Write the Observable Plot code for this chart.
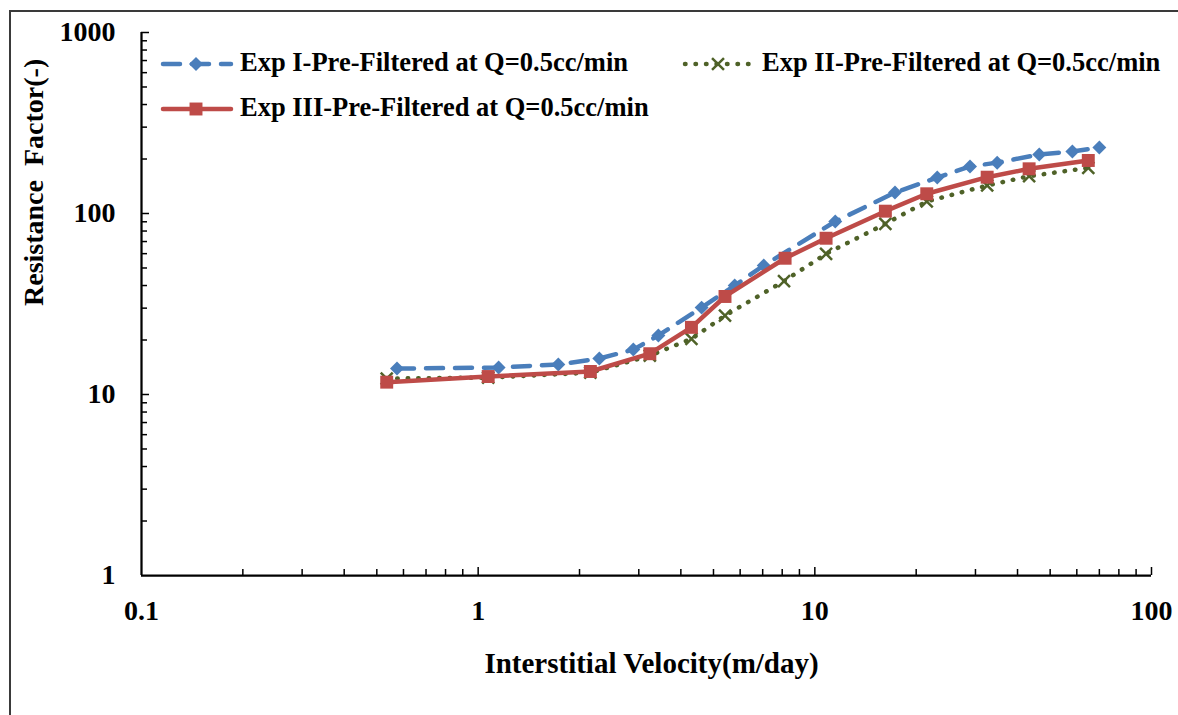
<!DOCTYPE html>
<html>
<head>
<meta charset="utf-8">
<script src="https://cdn.jsdelivr.net/npm/d3@7"></script>
<script src="https://cdn.jsdelivr.net/npm/@observablehq/plot@0.6"></script>
<style>
  html, body { margin: 0; padding: 0; background: #fff; overflow: hidden; }
  #wrap { position: relative; width: 1178px; height: 715px; overflow: hidden; }
  #wrap > svg { position: absolute; left: 0; top: 0; }
  #frame { position: absolute; left: 9px; top: 10px; width: 1300px; height: 800px; border: 2px solid #3a3a3a; box-sizing: border-box; pointer-events: none; }
</style>
</head>
<body>
<div id="wrap"><div id="frame"></div></div>
<script>
// ---------- data ----------
const seriesNames = [
  "Exp I-Pre-Filtered at Q=0.5cc/min",
  "Exp II-Pre-Filtered at Q=0.5cc/min",
  "Exp III-Pre-Filtered at Q=0.5cc/min"
];
const velocityI   = [0.574, 1.15, 1.73, 2.29, 2.89, 3.43, 4.61, 5.78, 7.05, 11.5, 17.3, 23.1, 28.9, 34.8, 46.4, 58.2, 70.0];
const resistanceI = [13.9, 14.1, 14.65, 15.8, 17.7, 21.2, 30.2, 40.0, 51.6, 90.3, 130.6, 158, 182, 191, 212, 220, 231.5];
const velocityII   = [0.535, 1.071, 2.154, 3.235, 4.30, 5.41, 8.10, 10.8, 16.2, 21.5, 32.5, 43.3, 64.9];
const resistanceII = [12.25, 12.4, 13.2, 16.4, 20.3, 27.3, 42.3, 59.9, 87.7, 116.5, 142.8, 160.7, 178.8];
const velocityIII   = [0.535, 1.071, 2.154, 3.235, 4.30, 5.41, 8.16, 10.8, 16.2, 21.5, 32.5, 43.3, 64.9];
const resistanceIII = [11.7, 12.57, 13.4, 16.8, 23.5, 34.8, 56.6, 73.0, 103, 128.5, 158.7, 176.6, 196.3];
const xTickLabels = [0.1, 1, 10, 100];
const yTickLabels = [1, 10, 100, 1000];
const xTitle = "Interstitial Velocity(m/day)";
const yTitle = "Resistance  Factor(-)";

// ---------- derived tables ----------
const toRows = (xs, ys) => xs.map((x, i) => ({x, y: ys[i]}));
const rowsI = toRows(velocityI, resistanceI);
const rowsII = toRows(velocityII, resistanceII);
const rowsIII = toRows(velocityIII, resistanceIII);
const minorOf = (decades) => decades.flatMap(d => d3.range(2, 10).map(k => k * d));
const xMinor = minorOf([0.1, 1, 10]);
const yMinor = minorOf([1, 10, 100]);
const fmt = d3.format("~g");

const FONT = "Liberation Serif, Times New Roman, serif";
const blue = "#4A7EBB", red = "#BE4B48", green = "#4F6228";

const chart = Plot.plot({
  width: 1178, height: 715,
  marginLeft: 141, marginRight: 27, marginTop: 32, marginBottom: 140,
  x: {type: "log", domain: [0.1, 100], axis: null},
  y: {type: "log", domain: [1, 1000], axis: null},
  style: {fontFamily: FONT, fontWeight: "bold", background: "transparent", overflow: "visible"},
  marks: [
    // axis lines
    Plot.ruleX([0.1], {stroke: "#000", strokeWidth: 2.25}),
    Plot.ruleY([1], {stroke: "#000", strokeWidth: 2.25}),
    // x ticks (inward)
    Plot.ruleX(xMinor, {x: d => d, y1: () => 1, y2: () => 1, insetTop: -6, stroke: "#000", strokeWidth: 1.5}),
    Plot.ruleX(xTickLabels.slice(1), {x: d => d, y1: () => 1, y2: () => 1, insetTop: -8, stroke: "#000", strokeWidth: 1.5}),
    // y ticks (inward)
    Plot.ruleY(yMinor, {y: d => d, x1: () => 0.1, x2: () => 0.1, insetRight: -6, stroke: "#000", strokeWidth: 1.5}),
    Plot.ruleY(yTickLabels.slice(1), {y: d => d, x1: () => 0.1, x2: () => 0.1, insetRight: -8, stroke: "#000", strokeWidth: 1.5}),
    // tick labels
    Plot.text(xTickLabels, {x: d => d, frameAnchor: "bottom", dy: 36, lineAnchor: "middle", text: d => fmt(d), fontSize: 28, fill: "#000"}),
    Plot.text(yTickLabels, {y: d => d, frameAnchor: "left", dx: -26, textAnchor: "end", lineAnchor: "middle", text: d => fmt(d), fontSize: 28, fill: "#000"}),
    // axis titles
    Plot.text([xTitle], {frameAnchor: "bottom", dx: 5, dy: 88, lineAnchor: "middle", text: d => d, fontSize: 29, fill: "#000"}),
    Plot.text([yTitle], {frameAnchor: "left", dx: -107, dy: 2, rotate: -90, lineAnchor: "middle", text: d => d, fontSize: 28, fill: "#000"}),
    // series I (blue, long dash, diamonds)
    Plot.line(rowsI, {x: "x", y: "y", stroke: blue, strokeWidth: 4.5, strokeDasharray: "17,12", strokeLinecap: "round"}),
    Plot.dot(rowsI, {x: "x", y: "y", symbol: "diamond2", r: 6.3, fill: blue, stroke: "none"}),
    // series II (green, dotted, x)
    Plot.line(rowsII, {x: "x", y: "y", stroke: green, strokeWidth: 4.5, strokeDasharray: "0.5,10", strokeLinecap: "round"}),
    Plot.dot(rowsII, {x: "x", y: "y", symbol: "times", r: 5.5, stroke: green, strokeWidth: 2.5}),
    // series III (red, solid, squares)
    Plot.line(rowsIII, {x: "x", y: "y", stroke: red, strokeWidth: 4.5}),
    Plot.dot(rowsIII, {x: "x", y: "y", symbol: "square", r: 7.3, fill: red, stroke: "none"})
  ]
});
const wrap = document.getElementById("wrap");
wrap.insertBefore(chart, document.getElementById("frame"));

// ---------- legend (overlay) ----------
const leg = d3.select(wrap).append("svg")
  .attr("width", 1178).attr("height", 140)
  .style("position", "absolute").style("left", "0px").style("top", "0px")
  .style("font-family", FONT).style("font-weight", "bold").style("font-size", "26.5px");
const items = [
  {name: seriesNames[0], x: 161, y: 64, color: blue, dash: "17,12", sym: d3.symbolDiamond2, r: 6.3, filled: true},
  {name: seriesNames[1], x: 683, y: 64, color: green, dash: "0.5,10", sym: d3.symbolTimes, r: 5.5, filled: false},
  {name: seriesNames[2], x: 161, y: 109, color: red, dash: null, sym: d3.symbolSquare, r: 7.3, filled: true}
];
for (const it of items) {
  const g = leg.append("g");
  const ln = g.append("line").attr("x1", it.x + 2).attr("x2", it.x + 70).attr("y1", it.y).attr("y2", it.y)
    .attr("stroke", it.color).attr("stroke-width", 4.5).attr("stroke-linecap", "round");
  if (it.dash) ln.attr("stroke-dasharray", it.dash);
  const sym = d3.symbol(it.sym, Math.PI * it.r * it.r);
  const p = g.append("path").attr("d", sym()).attr("transform", `translate(${it.x + 35},${it.y})`);
  if (it.filled) p.attr("fill", it.color); else p.attr("fill", "none").attr("stroke", it.color).attr("stroke-width", 2.5);
  g.append("text").attr("x", it.x + 79).attr("y", it.y + 7).attr("fill", "#000").text(it.name);
}
</script>
</body>
</html>
